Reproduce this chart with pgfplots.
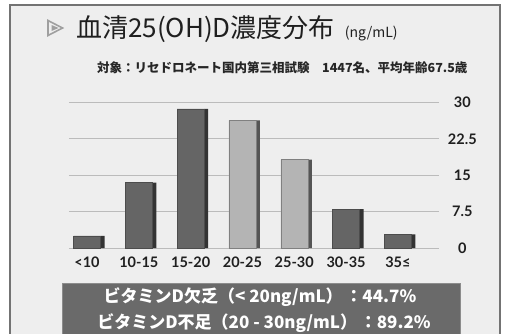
\documentclass[border=0pt]{standalone}
\usepackage{pgfplots}
\pgfplotsset{compat=1.18}
\usepackage{pgfplotstable}
\usepackage{fontspec}
\setmainfont{Lato}[BoldFont={Lato Bold}]
\newfontfamily\cjk{Noto Sans CJK JP}
\definecolor{slidebg}{HTML}{EEEEEE}
\definecolor{darkbar}{HTML}{656565}
\definecolor{darkside}{HTML}{333333}
\definecolor{lightbar}{HTML}{B4B4B4}
\definecolor{lightside}{HTML}{555555}
\definecolor{boxgray}{HTML}{6A6A6A}
\definecolor{gridgray}{HTML}{BBBBBB}

\pgfplotstableread{
x v
0 2.5
1 13.5
2 28.7
5 8.0
6 2.8
}\darkdata
\pgfplotstableread{
x v
3 26.3
4 18.2
}\lightdata

\begin{document}
\begin{tikzpicture}[x=1bp,y=1bp]
\path[use as bounding box] (0,0) rectangle (505,333);
\clip (0,0) rectangle (505,333);
\fill[white] (0,0) rectangle (505,333);
\fill[slidebg] (10,-12) rectangle (500,328);
\draw[black!55, line width=1.2bp] (10,-12) -- (10,328) -- (500,328) -- (500,-12);
% icon
\draw[gray!75, line width=1.6bp, line join=miter] (48,312.5) -- (62.5,305) -- (48,297.5) -- cycle;
\fill[gray!75] (51.5,308) -- (58.5,305) -- (51.5,302) -- cycle;
% title
\node[anchor=base west, inner sep=0pt, text=black!88] at (76,296)
  {\cjk\fontsize{26bp}{26bp}\selectfont 血清25(OH)D濃度分布\, {\fontsize{14bp}{14bp}\selectfont (ng/mL)}};
\node[anchor=west, inner sep=0pt, text=black!85] at (97,265)
  {\cjk\bfseries\fontsize{12.5bp}{12.5bp}\selectfont 対象：リセドロネート国内第三相試験\quad 1447名、平均年齢67.5歳};

\begin{axis}[
  at={(68.9bp,85bp)}, anchor=south west,
  scale only axis, width=370.4bp, height=150.35bp,
  xmin=-0.35, xmax=6.8, ymin=0, ymax=31,
  axis line style={draw=none}, tick style={draw=none},
  xtick={0,1,2,3,4,5,6},
  xticklabels={{<10},{10-15},{15-20},{20-25},{25-30},{30-35},{35≤}},
  ytick={0,7.5,15,22.5,30},
  yticklabels={0,7.5,15,22.5,30},
  yticklabel pos=right,
  ymajorgrids, grid style={gridgray, line width=0.8bp},
  ybar, bar width=27bp,
  xticklabel style={font=\bfseries\fontsize{14.5bp}{14.5bp}\selectfont, text=black!88, yshift=-1bp},
  yticklabel style={font=\bfseries\fontsize{14.5bp}{14.5bp}\selectfont, text=black!88, anchor=center, xshift=23bp},
  clip=false,
]
\addplot[fill=darkside, draw=none, bar width=4bp, bar shift=15.5bp] table[x=x,y=v]{\darkdata};
\addplot[fill=lightside, draw=none, bar width=4bp, bar shift=15.5bp] table[x=x,y=v]{\lightdata};
\addplot[fill=darkbar, draw=black!70, line width=0.5bp, bar shift=0pt] table[x=x,y=v]{\darkdata};
\addplot[fill=lightbar, draw=black!50, line width=0.5bp, bar shift=0pt] table[x=x,y=v]{\lightdata};
\end{axis}

% bottom box
\fill[boxgray] (62,-12) rectangle (460,50);
\draw[black!45, line width=1bp] (62,-12) -- (62,50) -- (460,50) -- (460,-12);
\node[text=white, inner sep=0pt] at (260,36)
  {\cjk\bfseries\fontsize{17bp}{17bp}\selectfont ビタミンD欠乏（< 20ng/mL）\,：44.7\%};
\node[text=white, inner sep=0pt] at (264,10)
  {\cjk\bfseries\fontsize{17bp}{17bp}\selectfont ビタミンD不足（20 - 30ng/mL）\,：89.2\%};
\end{tikzpicture}
\end{document}
